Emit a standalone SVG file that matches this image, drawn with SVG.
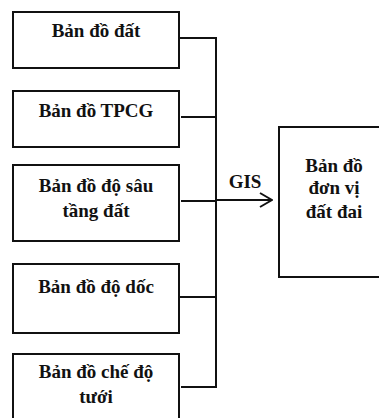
<svg xmlns="http://www.w3.org/2000/svg" width="379" height="418" viewBox="0 0 379 418">
<style>
.box{fill:#fff;stroke:#111;stroke-width:2}
.t{font-family:"Liberation Serif","Times New Roman",serif;font-weight:bold;font-size:19px;fill:#111;text-anchor:middle}
.ln{fill:none;stroke:#111;stroke-width:2}
</style>
<defs>
<marker id="ah" markerWidth="14" markerHeight="16" refX="13" refY="8" orient="auto" markerUnits="userSpaceOnUse">
<path d="M1,1 L13,8 L1,15" fill="none" stroke="#111" stroke-width="2"/>
</marker>
</defs>
<rect width="379" height="418" fill="#fff"/>
<g id="connectors">
<path class="ln" d="M179,38 H216 M181,117 H216 M181,201 H216 M179,297 H216 M181,387 H216 M216,37 V388"/>
<path class="ln" d="M216,200 H272" marker-end="url(#ah)"/>
<text class="t" x="245" y="188">GIS</text>
</g>
<g id="n1"><rect class="box" x="13" y="12" width="166" height="56"/><text class="t" x="96" y="37">Bản đồ đất</text></g>
<g id="n2"><rect class="box" x="13" y="91" width="166" height="56"/><text class="t" x="96" y="117">Bản đồ TPCG</text></g>
<g id="n3"><rect class="box" x="13" y="165" width="166" height="76"/><text class="t" x="96" y="192">Bản đồ độ sâu</text><text class="t" x="96" y="217">tầng đất</text></g>
<g id="n4"><rect class="box" x="13" y="264" width="166" height="69"/><text class="t" x="96" y="293">Bản đồ độ dốc</text></g>
<g id="n5"><rect class="box" x="13" y="354" width="166" height="70"/><text class="t" x="96" y="378">Bản đồ chế độ</text><text class="t" x="96" y="403">tưới</text></g>
<g id="n6"><rect class="box" x="279" y="127" width="110" height="150"/><text class="t" x="334" y="172">Bản đồ</text><text class="t" x="334" y="194">đơn vị</text><text class="t" x="334" y="218">đất đai</text></g>
</svg>
